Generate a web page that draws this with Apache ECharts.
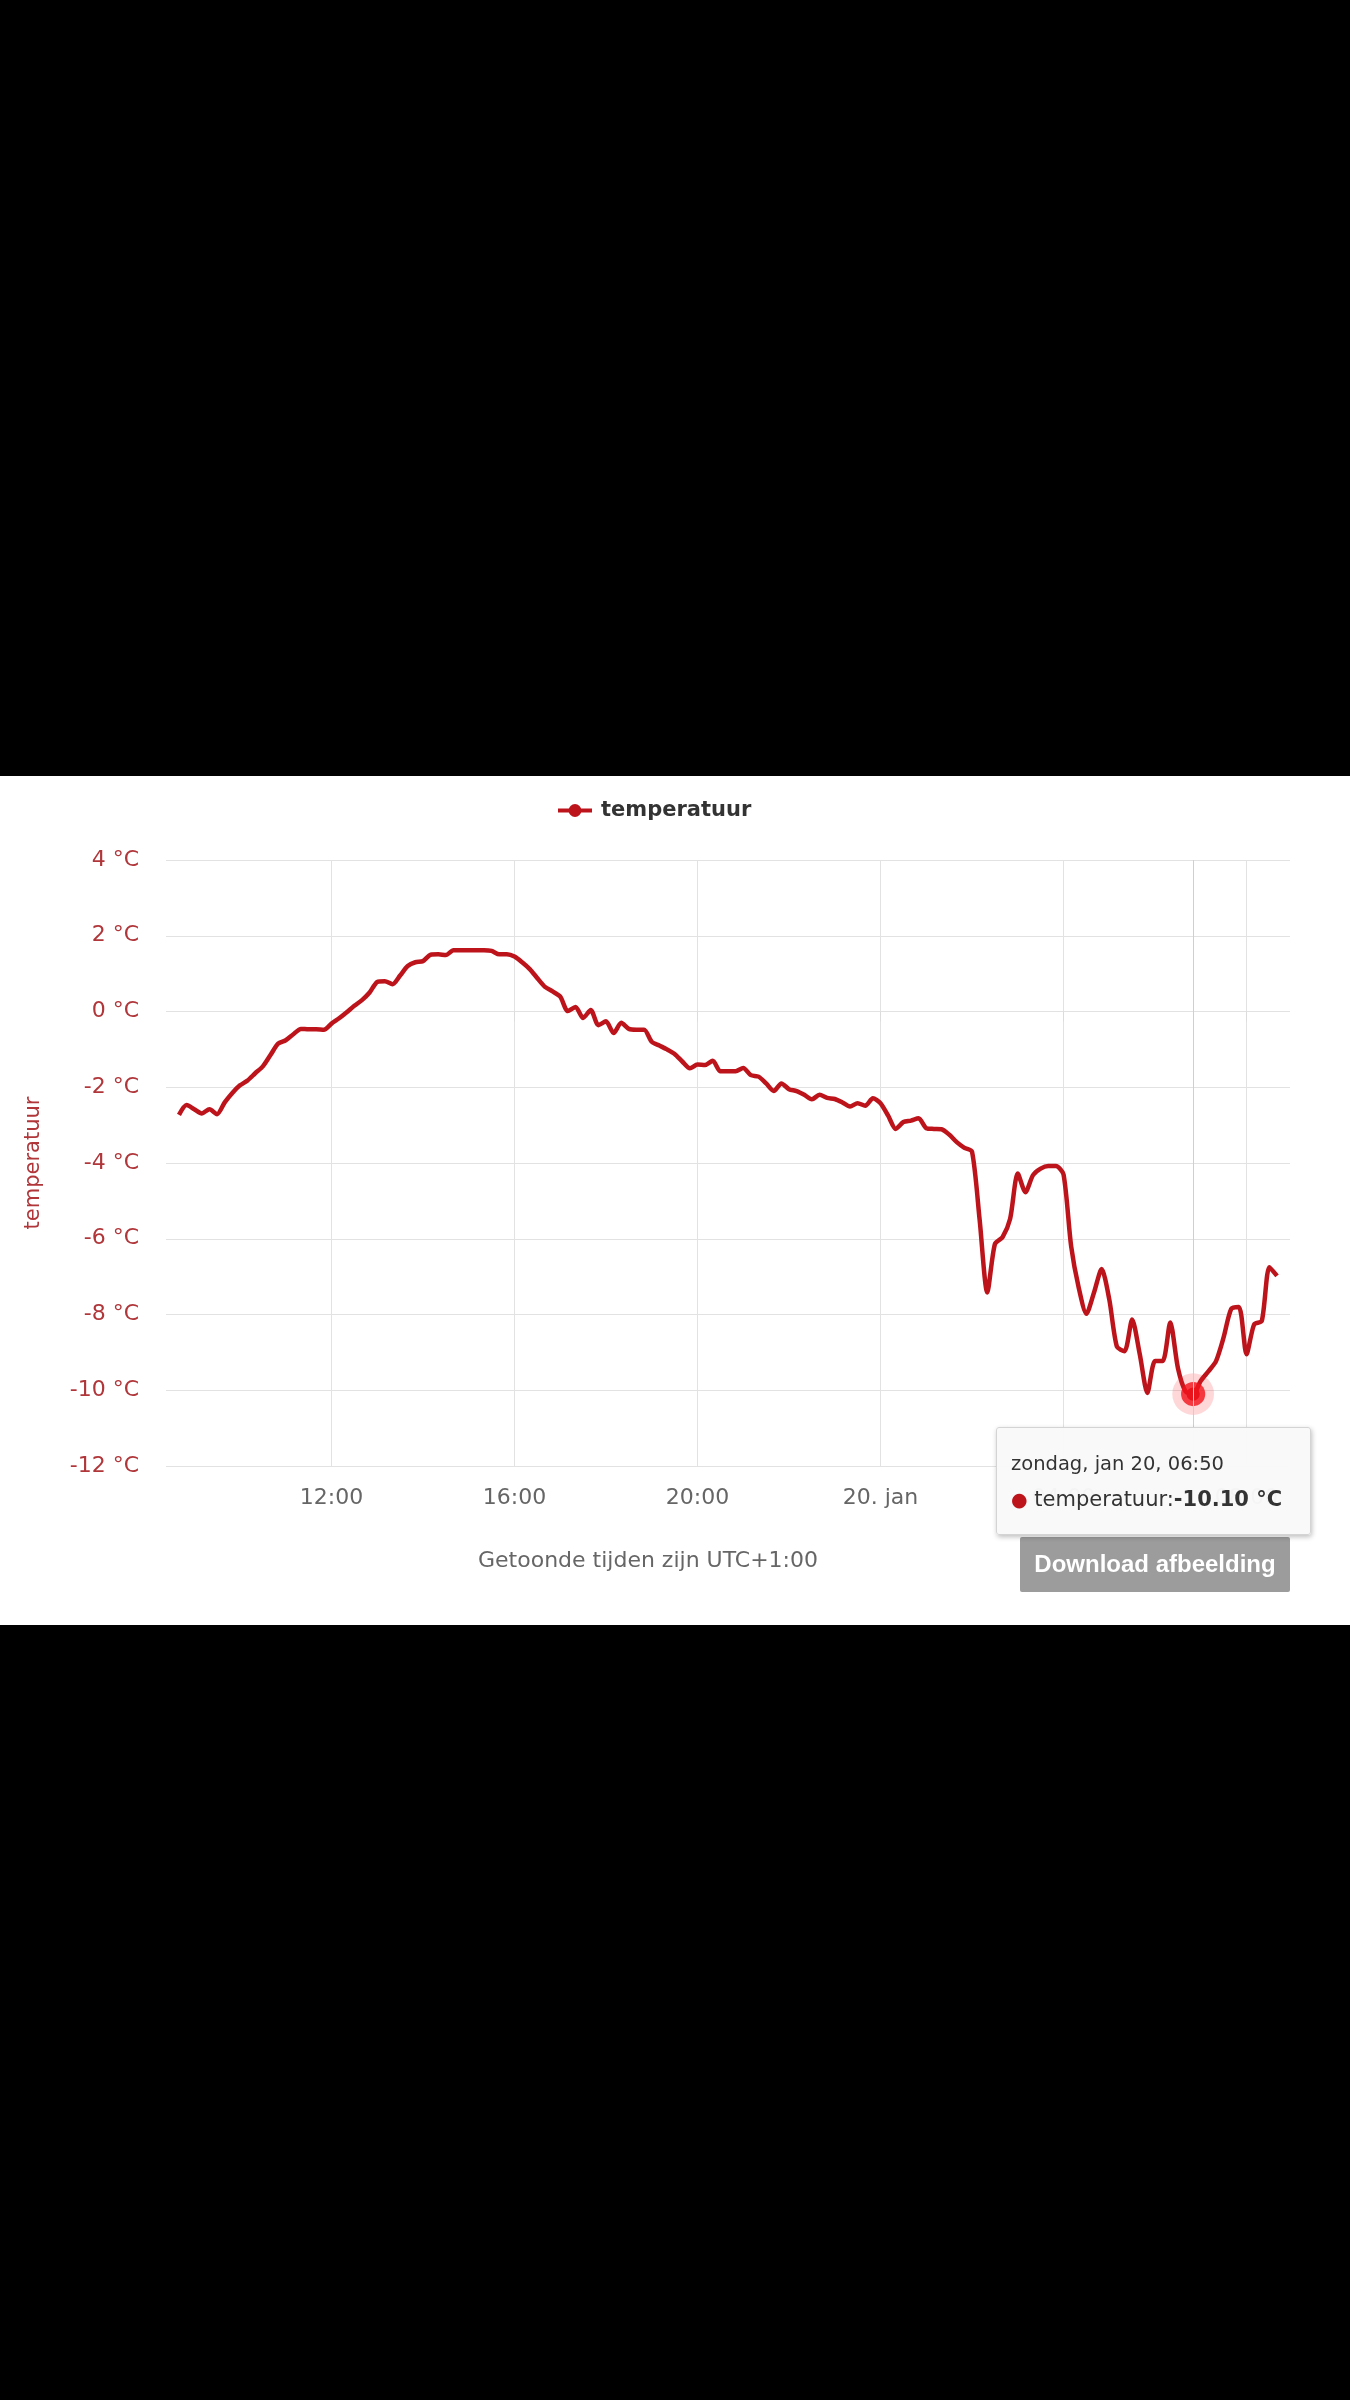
<!DOCTYPE html>
<html>
<head>
<meta charset="utf-8" />
<title>temperatuur</title>
<script src="https://cdn.jsdelivr.net/npm/echarts@6/dist/echarts.min.js"></script>
<style>
  * { margin: 0; padding: 0; }
  body { background: #000; width: 1350px; height: 2400px; }
  #main {
    position: absolute;
    left: 0;
    top: 776px;
    width: 1350px;
    height: 849px;
    background: #fff;
  }
</style>
</head>
<body>
<div id="main"></div>
<script type="text/javascript">
// first sample and sampling step (10 minutes)
var startTime = '2019-01-19T08:40:00Z';
var stepMinutes = 10;

// temperature per 10 minutes, one row per clock hour
var tempRows = [
  [-2.73, -2.47],                                   // 08:40 - 08:50
  [-2.58, -2.69, -2.58, -2.71, -2.40, -2.15],       // 09
  [-1.95, -1.82, -1.63, -1.45, -1.15, -0.85],       // 10
  [-0.76, -0.60, -0.46, -0.47, -0.47, -0.48],       // 11
  [-0.32, -0.18, -0.02, 0.15, 0.30, 0.50],          // 12
  [0.78, 0.80, 0.72, 0.95, 1.20, 1.30],             // 13
  [1.33, 1.50, 1.51, 1.49, 1.62, 1.62],             // 14
  [1.62, 1.62, 1.62, 1.60, 1.51, 1.51],             // 15
  [1.45, 1.30, 1.12, 0.88, 0.65, 0.53],             // 16
  [0.39, 0.01, 0.12, -0.17, 0.04, -0.36],           // 17
  [-0.26, -0.57, -0.30, -0.46, -0.48, -0.48],       // 18
  [-0.80, -0.90, -1.00, -1.12, -1.32, -1.50],       // 19
  [-1.40, -1.41, -1.30, -1.58, -1.58, -1.58],       // 20
  [-1.49, -1.68, -1.72, -1.90, -2.10, -1.90],       // 21
  [-2.05, -2.10, -2.20, -2.32, -2.20, -2.28],       // 22
  [-2.31, -2.40, -2.51, -2.42, -2.49, -2.29],       // 23
  [-2.42, -2.75, -3.10, -2.92, -2.88, -2.82],       // 00 (20 jan)
  [-3.08, -3.10, -3.11, -3.25, -3.45, -3.60],       // 01
  [-3.70, -5.50, -7.42, -6.14, -5.96, -5.47],       // 02
  [-4.28, -4.77, -4.32, -4.15, -4.08, -4.08],       // 03
  [-4.30, -6.20, -7.30, -7.98, -7.42, -6.80],       // 04
  [-7.60, -8.85, -8.97, -8.13, -9.05, -10.07],      // 05
  [-9.23, -9.23, -8.21, -9.41, -10.03, -10.10],     // 06
  [-9.75, -9.50, -9.23, -8.60, -7.85, -7.80],       // 07
  [-9.05, -8.26, -8.17, -6.75, -6.98]               // 08:00 - 08:40
];

// x axis
var xMin = '2019-01-19T08:23:00Z';
var xMax = '2019-01-20T08:57:00Z';
var tickTimes = ['2019-01-19T12:00:00Z', '2019-01-19T16:00:00Z', '2019-01-19T20:00:00Z',
                 '2019-01-20T00:00:00Z', '2019-01-20T04:00:00Z', '2019-01-20T08:00:00Z'];
var tickLabels = ['12:00', '16:00', '20:00', '20. jan', '04:00', '08:00'];

// y axis
var yMin = -12, yMax = 4, yStep = 2;

// hovered point shown in the tooltip
var hoverTime = '2019-01-20T06:50:00Z';

var dayNames = ['zondag', 'maandag', 'dinsdag', 'woensdag', 'donderdag', 'vrijdag', 'zaterdag'];
var monthNames = ['jan', 'feb', 'mrt', 'apr', 'mei', 'jun', 'jul', 'aug', 'sep', 'okt', 'nov', 'dec'];

var lineColor = '#bd141c';
var labelColor = '#b0363a';
var font = 'DejaVu Sans';

// build series from the arrays
var temps = [].concat.apply([], tempRows);
var t0 = Date.parse(startTime);
var lineData = temps.map(function (v, i) {
  return [t0 + i * stepMinutes * 60000, v];
});
var tickValues = tickTimes.map(function (s) { return Date.parse(s); });
var hoverIdx = 0;
lineData.forEach(function (d, i) {
  if (d[0] === Date.parse(hoverTime)) hoverIdx = i;
});

function pad(n) { return (n < 10 ? '0' : '') + n; }

var myChart = echarts.init(document.getElementById('main'));

var option = {
  backgroundColor: '#fff',
  animation: false,
  textStyle: { fontFamily: font },
  legend: {
    data: ['temperatuur'],
    left: 551,
    top: 19,
    itemWidth: 34,
    itemHeight: 16,
    lineStyle: { width: 4 },
    textStyle: { fontFamily: font, fontSize: 21, fontWeight: 'bold', color: '#333', padding: [0, 0, 0, 4] }
  },
  grid: {
    left: 166,
    right: 60,
    top: 84,
    bottom: 159
  },
  tooltip: {
    trigger: 'axis',
    triggerOn: 'none',
    alwaysShowContent: true,
    transitionDuration: 0,
    position: [996, 651],
    padding: 0,
    borderWidth: 1,
    borderColor: '#d4d4d4',
    backgroundColor: 'rgba(249,249,249,0.97)',
    extraCssText: 'width:315px;height:108px;box-sizing:border-box;border-radius:3px;box-shadow:1px 2px 5px rgba(0,0,0,0.25);',
    axisPointer: {
      type: 'line',
      lineStyle: { color: '#cfcfcf', width: 1, type: 'solid' }
    },
    formatter: function (params) {
      var p = params[0];
      var d = new Date(p.value[0]);
      var title = dayNames[d.getUTCDay()] + ', ' + monthNames[d.getUTCMonth()] + ' ' +
        d.getUTCDate() + ', ' + pad(d.getUTCHours()) + ':' + pad(d.getUTCMinutes());
      return '<div style="padding:23px 10px 0 14px;font-family:DejaVu Sans;color:#333;">' +
        '<div style="font-size:19.5px;line-height:26px;">' + title + '</div>' +
        '<div style="font-size:21px;line-height:26px;margin-top:9px;white-space:nowrap;">' +
        '<span style="color:' + lineColor + ';font-size:19px;">\u25CF</span> temperatuur:' +
        '<b>' + p.value[1].toFixed(2) + ' °C</b></div></div>';
    }
  },
  xAxis: {
    type: 'value',
    min: Date.parse(xMin),
    max: Date.parse(xMax),
    axisLine: { show: false },
    axisTick: {
      show: true,
      length: 10,
      customValues: tickValues,
      lineStyle: { color: '#dcdcdc' }
    },
    axisLabel: {
      customValues: tickValues,
      margin: 21,
      fontSize: 22,
      fontFamily: font,
      color: '#666',
      formatter: function (v) {
        var i = tickValues.indexOf(v);
        return i >= 0 ? tickLabels[i] : '';
      }
    },
    splitLine: { show: true, lineStyle: { color: '#e2e2e2', width: 1 } }
  },
  yAxis: {
    type: 'value',
    min: yMin,
    max: yMax,
    interval: yStep,
    name: 'temperatuur',
    nameLocation: 'middle',
    nameRotate: 90,
    nameGap: 122,
    nameTextStyle: { color: labelColor, fontSize: 21, fontFamily: font },
    axisLine: { show: false },
    axisTick: { show: false },
    axisLabel: {
      margin: 27,
      fontSize: 22,
      fontFamily: font,
      color: labelColor,
      formatter: function (v) { return v + ' °C'; }
    },
    splitLine: { show: true, lineStyle: { color: '#e2e2e2', width: 1 } }
  },
  series: [
    {
      name: 'temperatuur',
      type: 'line',
      data: lineData,
      smooth: 0.25,
      showSymbol: false,
      symbol: 'circle',
      symbolSize: 12,
      itemStyle: { color: lineColor },
      lineStyle: { color: lineColor, width: 4.5 },
      emphasis: { disabled: true }
    },
    {
      name: 'halo',
      type: 'scatter',
      data: [lineData[hoverIdx]],
      symbolSize: 38,
      itemStyle: { color: 'rgba(225,30,35,0.22)' },
      silent: true,
      z: 3
    },
    {
      name: 'punt',
      type: 'scatter',
      data: [lineData[hoverIdx]],
      symbolSize: 22,
      itemStyle: { color: '#dd1018' },
      silent: true,
      z: 4
    }
  ],
  graphic: [
    {
      type: 'text',
      left: 478,
      top: 774,
      style: { text: 'Getoonde tijden zijn UTC+1:00', fill: '#666', font: '22px "DejaVu Sans"' }
    },
    {
      type: 'group',
      left: 1020,
      top: 761,
      children: [
        { type: 'rect', shape: { x: 0, y: 0, width: 270, height: 55, r: 2 }, style: { fill: '#9c9c9c' } },
        {
          type: 'text',
          x: 135,
          y: 28,
          style: {
            text: 'Download afbeelding',
            fill: '#fff',
            font: 'bold 24px "Liberation Sans"',
            align: 'center',
            verticalAlign: 'middle'
          }
        }
      ]
    }
  ]
};

myChart.setOption(option);
myChart.dispatchAction({ type: 'showTip', seriesIndex: 0, dataIndex: hoverIdx });
</script>
</body>
</html>
